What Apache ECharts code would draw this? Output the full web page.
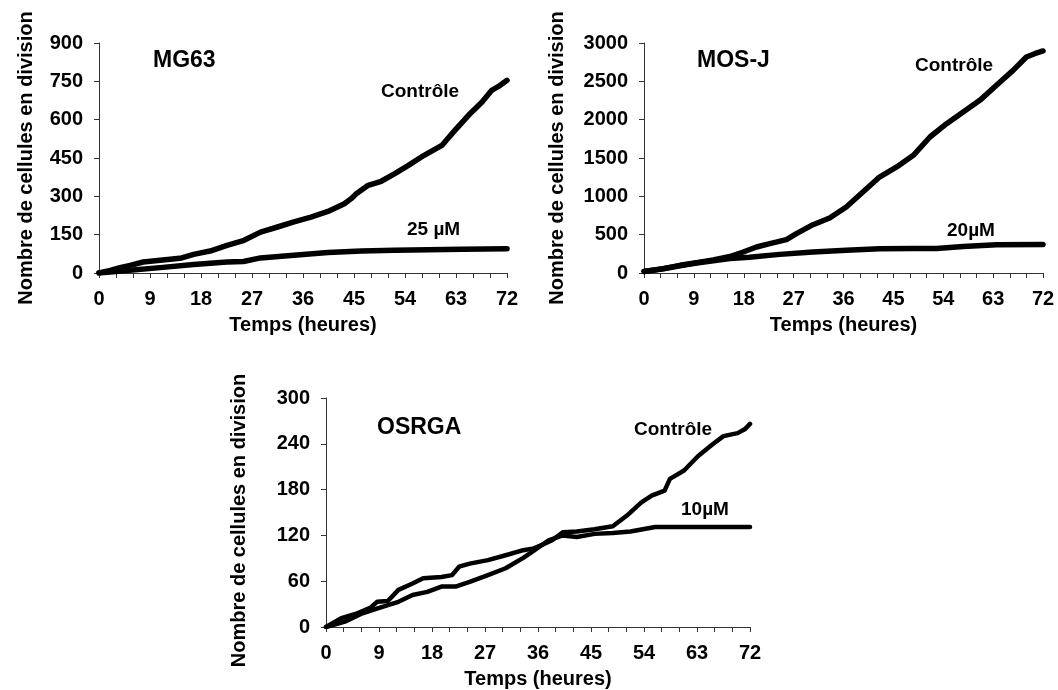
<!DOCTYPE html>
<html><head><meta charset="utf-8">
<script src="https://cdn.jsdelivr.net/npm/echarts@6/dist/echarts.min.js"></script>
<style>html,body{margin:0;padding:0;background:#fff}#c{width:1058px;height:690px}</style>
</head><body><div id="c"></div>
<script>
// ---- data (hours, values) ----
const mg63ControlHours = [0,2,3.7,5.5,7.8,10.8,13,14.6,16.7,19.6,22.6,25.6,28.5,31.5,34.4,37.4,40.4,43.3,44.5,45.4,47.5,49.8,52.2,54.6,56.9,60.5,62.8,65.2,67.6,69.3,70.5,72];
const mg63ControlValues = [0,10,21,30,43,50,55,59,73,86,108,128,160,180,200,219,241,271,291,310,343,359,389,421,454,499,558,617,669,715,730,754];
const mg63DrugHours = [0,2,4.9,10.8,16.7,22.6,25.5,28.5,34.4,40.4,46.3,52.2,58.1,64,72];
const mg63DrugValues = [0,4,10,21,33,43,45,59,69,80,86,89,91,93,95];

const mosjControlHours = [0,3.5,6.5,9.5,12.5,15.5,17.9,20.3,22.7,25.7,27.5,30.5,33.5,36.5,39.5,42.5,45.6,48.6,51.6,54.6,57.6,60.6,63.6,66.6,69,70.5,72];
const mosjControlValues = [20,57,100,135,170,215,274,339,383,435,513,630,717,861,1057,1252,1383,1535,1774,1948,2100,2252,2448,2643,2817,2860,2896];
const mosjDrugHours = [0,3.5,6.5,9.5,12.5,15.5,19,24.5,30.5,36.5,42.5,48.6,52.8,57.6,63.6,72];
const mosjDrugValues = [20,55,95,130,160,190,205,243,274,296,315,318,320,345,370,372];

const osrgaControlHours = [0,2.6,5,7.5,8.7,10.5,12.3,14.7,16.5,19.6,21.4,22.6,24.4,27.5,30.5,33.5,35.3,36.5,38.4,40.2,42.6,45.6,48.7,51.1,53.5,55.3,57.5,58.4,60.8,63.2,65.6,67.5,69.9,71.1,72];
const osrgaControlValues = [0,11.7,17,25,33,34,48.6,57,64,65.5,68,79,83,87.6,94,100.6,103,107,113.6,124,125,128,132,146,163,172,178.6,194,205,224,239,250,254,259,266];
const osrgaDrugHours = [0,3.2,6.2,9.3,12.3,14.7,17.2,19.6,22,24.4,27.5,30.5,33.5,35.3,37.8,40.2,42.6,45.6,48.7,51.7,55.9,60.8,72];
const osrgaDrugValues = [0,7,18,25.6,33,42,46,53,53,59,68,77,90.6,100,113.6,120,118,122,123,125,131,131,131];

const xName = 'Temps (heures)';
const yName = 'Nombre de cellules en division';
const panelNames = ['MG63','MOS-J','OSRGA'];
const drugLabels = ['25 µM','20µM','10µM'];
const controlLabel = 'Contrôle';
const yMax = [900,3000,300];
const yStep = [150,500,60];

// ---- chart ----
const FONT = '"Liberation Sans", Arial, sans-serif';
const zip = (a,b) => a.map((v,i)=>[v,b[i]]);
const axisColor = '#333';
const grids = [
  {left:99, top:43, width:408, height:230},
  {left:644, top:43, width:399, height:230},
  {left:326, top:398, width:424, height:231}
];
const yNameGap = [63,77,77];
const yNamePad = [[0,0,0,0],[0,0,0,0],[0,16,0,0]];
const txt = {fontFamily:FONT, fontWeight:'bold', fontSize:20, color:'#000'};

const xAxes = grids.map((g,i)=>({
  type:'value', gridIndex:i, min:0, max:72, interval:3,
  axisLine:{show:true, onZero:false, lineStyle:{color:axisColor, width:1}},
  axisTick:{show:true, length:5, lineStyle:{color:axisColor, width:1}},
  axisLabel:Object.assign({margin:16, formatter:v => (v%9===0 ? String(v) : '')}, txt),
  splitLine:{show:false},
  name:xName, nameLocation:'middle', nameGap:42, nameTextStyle:Object.assign({}, txt)
}));
const yAxes = grids.map((g,i)=>({
  type:'value', gridIndex:i, min:0, max:yMax[i], interval:yStep[i],
  axisLine:{show:true, lineStyle:{color:axisColor, width:1}},
  axisTick:{show:true, length:5, lineStyle:{color:axisColor, width:1}},
  axisLabel:Object.assign({margin:16, formatter:v => String(v)}, txt),
  splitLine:{show:false},
  name:yName, nameLocation:'middle', nameRotate:90, nameGap:yNameGap[i],
  nameTextStyle:Object.assign({padding:yNamePad[i]}, txt)
}));

const lineSeries = (data, i, w) => ({
  type:'line', xAxisIndex:i, yAxisIndex:i, data, symbol:'none', showSymbol:false,
  lineStyle:{color:'#000', width:w, cap:'round', join:'round'}, animation:false
});
const series = [
  lineSeries(zip(mg63ControlHours, mg63ControlValues), 0, 5.5),
  lineSeries(zip(mg63DrugHours, mg63DrugValues), 0, 5.5),
  lineSeries(zip(mosjControlHours, mosjControlValues), 1, 5.5),
  lineSeries(zip(mosjDrugHours, mosjDrugValues), 1, 5.5),
  lineSeries(zip(osrgaControlHours, osrgaControlValues), 2, 4.5),
  lineSeries(zip(osrgaDrugHours, osrgaDrugValues), 2, 4.5)
];

const gText = (text, left, top, size) => ({
  type:'text', left, top,
  style:{text, fill:'#000', fontFamily:FONT, fontWeight:'bold', fontSize:size}
});
const graphic = [
  gText(panelNames[0], 153, 49, 23),
  gText(panelNames[1], 697, 49, 23),
  gText(panelNames[2], 377, 416, 23),
  gText(controlLabel, 381, 82, 19),
  gText(drugLabels[0], 407, 220, 19),
  gText(controlLabel, 915, 56, 19),
  gText(drugLabels[1], 947, 221, 19),
  gText(controlLabel, 634, 420, 19),
  gText(drugLabels[2], 681, 500, 19)
];

const chart = echarts.init(document.getElementById('c'), null, {renderer:'canvas'});
chart.setOption({
  backgroundColor:'#fff', animation:false,
  grid:grids, xAxis:xAxes, yAxis:yAxes, series, graphic
});
</script></body></html>
